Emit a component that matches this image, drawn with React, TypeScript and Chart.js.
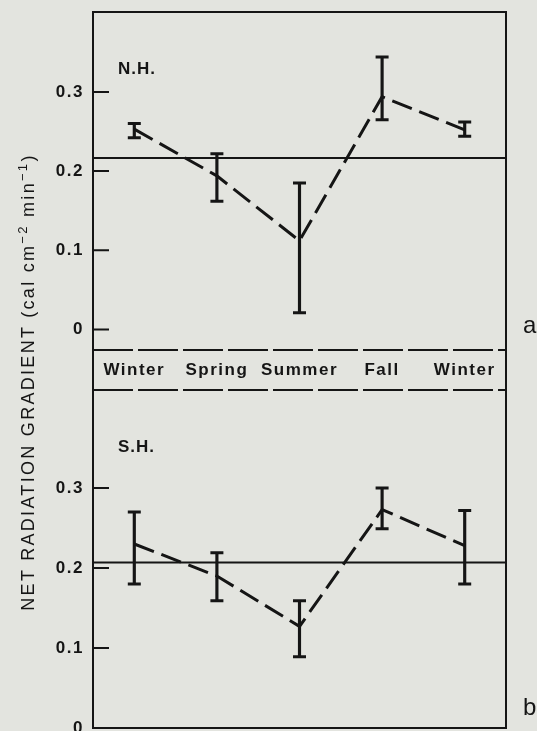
import React, { useEffect, useRef } from "react";
import { Chart, registerables } from "chart.js";

Chart.register(...registerables);

// ---------- data ----------
const seasons = ["Winter", "Spring", "Summer", "Fall", "Winter"];
const yTickValues = [0, 0.1, 0.2, 0.3];

const nhMean = [0.253, 0.194, 0.112, 0.294, 0.252];
const nhLow = [0.242, 0.162, 0.021, 0.265, 0.244];
const nhHigh = [0.26, 0.222, 0.185, 0.344, 0.262];
const nhAnnual = 0.2165;

const shMean = [0.23, 0.19, 0.127, 0.273, 0.228];
const shLow = [0.18, 0.159, 0.089, 0.249, 0.18];
const shHigh = [0.27, 0.219, 0.159, 0.3, 0.272];
const shAnnual = 0.207;

// ---------- style ----------
const INK = "#151515";
const BG = "#e3e4df";
const FONT = "'Liberation Sans', Arial, Helvetica, sans-serif";

type PanelOpts = {
  mean: number[];
  low: number[];
  high: number[];
  annual: number;
  yMin: number;
  yMax: number;
  showX: boolean;
  tag: string;
  tagY: number;
  letter: string;
  letterY: number;
  canvasH: number;
  padTop: number;
  padBottom: number;
  xAxisH: number;
  bandH: number;
};

function makePlugin(o: PanelOpts) {
  return {
    id: "panelFrame",
    beforeDraw(chart: any) {
      chart.ctx.letterSpacing = "1.5px";
    },
    afterDraw(chart: any) {
      const { ctx, chartArea: a, scales } = chart;
      const ys = scales.y;
      ctx.save();
      ctx.strokeStyle = INK;
      ctx.fillStyle = INK;
      ctx.lineWidth = 2;
      ctx.setLineDash([]);
      const bottomV = o.showX ? a.bottom + o.bandH + 1 : a.bottom + 1;
      const topV = o.showX ? a.top - 1 : 0;
      // side frame lines
      ctx.beginPath();
      ctx.moveTo(a.left, topV);
      ctx.lineTo(a.left, bottomV);
      ctx.moveTo(a.right, topV);
      ctx.lineTo(a.right, bottomV);
      ctx.stroke();
      if (o.showX) {
        ctx.beginPath();
        ctx.moveTo(a.left - 1, a.top);
        ctx.lineTo(a.right + 1, a.top);
        ctx.stroke();
        ctx.setLineDash([40, 5]);
        ctx.beginPath();
        ctx.moveTo(a.left, a.bottom);
        ctx.lineTo(a.right, a.bottom);
        ctx.moveTo(a.left, a.bottom + o.bandH);
        ctx.lineTo(a.right, a.bottom + o.bandH);
        ctx.stroke();
        ctx.setLineDash([]);
      } else {
        ctx.beginPath();
        ctx.moveTo(a.left - 1, a.bottom);
        ctx.lineTo(a.right + 1, a.bottom);
        ctx.stroke();
      }
      // inward tick marks
      ctx.beginPath();
      for (const t of ys.ticks) {
        const py = ys.getPixelForValue(t.value);
        ctx.moveTo(a.left, py);
        ctx.lineTo(a.left + 16, py);
      }
      ctx.stroke();
      // annual mean line
      const my = ys.getPixelForValue(o.annual);
      ctx.beginPath();
      ctx.moveTo(a.left, my);
      ctx.lineTo(a.right, my);
      ctx.stroke();
      // labels
      ctx.letterSpacing = "1px";
      ctx.font = `bold 17px ${FONT}`;
      ctx.textAlign = "left";
      ctx.textBaseline = "middle";
      ctx.fillText(o.tag, a.left + 25, o.tagY);
      ctx.letterSpacing = "0px";
      ctx.font = `24px ${FONT}`;
      ctx.textBaseline = "alphabetic";
      ctx.fillText(o.letter, a.right + 17, o.letterY);
      ctx.restore();
    },
  };
}

function makeConfig(o: PanelOpts): any {
  return {
    type: "bar",
    data: {
      labels: seasons,
      datasets: [
        {
          type: "line",
          data: o.mean,
          borderColor: INK,
          borderWidth: 3,
          borderDash: [21, 8],
          pointRadius: 0,
          tension: 0,
          fill: false,
          order: 1,
        },
        {
          type: "bar",
          data: o.low.map((l, i) => [l, o.high[i]]),
          backgroundColor: INK,
          borderWidth: 0,
          barThickness: 2.5,
          order: 2,
        },
        {
          type: "line",
          data: o.low,
          showLine: false,
          pointStyle: "line",
          pointRadius: 6.5,
          pointBorderWidth: 3,
          pointBorderColor: INK,
          order: 3,
        },
        {
          type: "line",
          data: o.high,
          showLine: false,
          pointStyle: "line",
          pointRadius: 6.5,
          pointBorderWidth: 3,
          pointBorderColor: INK,
          order: 4,
        },
      ],
    },
    options: {
      responsive: false,
      animation: false,
      devicePixelRatio: 1,
      events: [],
      layout: {
        autoPadding: false,
        padding: { top: o.padTop, right: 31, bottom: o.padBottom, left: 0 },
      },
      plugins: { legend: { display: false }, tooltip: { enabled: false } },
      scales: {
        x: {
          type: "category",
          offset: true,
          display: o.showX,
          grid: { display: false, drawTicks: false },
          border: { display: false },
          ticks: {
            color: INK,
            font: { family: FONT, size: 17, weight: "bold" },
            padding: 10,
            maxRotation: 0,
            autoSkip: false,
          },
          afterFit: (s: any) => {
            s.height = o.xAxisH;
            s.paddingLeft = 0;
            s.paddingRight = 0;
          },
        },
        y: {
          type: "linear",
          min: o.yMin,
          max: o.yMax,
          grid: { display: false, drawTicks: false },
          border: { display: false },
          afterBuildTicks: (s: any) => {
            s.ticks = yTickValues.map((v) => ({ value: v }));
          },
          ticks: {
            color: INK,
            font: { family: FONT, size: 17, weight: "bold" },
            padding: 9,
            callback: (v: any) => (v === 0 ? "0" : Number(v).toFixed(1)),
          },
          afterFit: (s: any) => {
            s.width = 93;
            s.paddingTop = 0;
            s.paddingBottom = 0;
          },
        },
      },
    },
    plugins: [makePlugin(o)],
  };
}

const topOpts: PanelOpts = {
  mean: nhMean,
  low: nhLow,
  high: nhHigh,
  annual: nhAnnual,
  yMin: -0.026,
  yMax: 0.401,
  showX: true,
  tag: "N.H.",
  tagY: 69,
  letter: "a",
  letterY: 333,
  canvasH: 393,
  padTop: 12,
  padBottom: 0,
  xAxisH: 43,
  bandH: 40,
};

const bottomOpts: PanelOpts = {
  mean: shMean,
  low: shLow,
  high: shHigh,
  annual: shAnnual,
  yMin: 0,
  yMax: 0.4225,
  showX: false,
  tag: "S.H.",
  tagY: 57,
  letter: "b",
  letterY: 325,
  canvasH: 341,
  padTop: 0,
  padBottom: 3,
  xAxisH: 0,
  bandH: 0,
};

function Panel({ o, top }: { o: PanelOpts; top: number }) {
  const ref = useRef<HTMLCanvasElement | null>(null);
  useEffect(() => {
    if (!ref.current) return;
    const chart = new Chart(ref.current, makeConfig(o));
    return () => chart.destroy();
  }, [o]);
  return (
    <canvas
      ref={ref}
      width={537}
      height={o.canvasH}
      style={{ position: "absolute", left: 0, top, width: 537, height: o.canvasH, display: "block" }}
    />
  );
}

export default function App() {
  return (
    <div
      style={{
        position: "absolute",
        left: 0,
        top: 0,
        width: 537,
        height: 731,
        background: BG,
        overflow: "hidden",
      }}
    >
      <Panel o={topOpts} top={0} />
      <Panel o={bottomOpts} top={390} />
      <div
        style={{
          position: "absolute",
          left: 28 - 250,
          top: 382 - 12,
          width: 500,
          height: 24,
          lineHeight: "24px",
          textAlign: "center",
          transform: "rotate(-90deg)",
          fontFamily: FONT,
          fontSize: 18,
          letterSpacing: "2.3px",
          color: INK,
          whiteSpace: "nowrap",
        }}
      >
        NET RADIATION GRADIENT (cal cm
        <sup style={{ fontSize: 13, lineHeight: 0, verticalAlign: "7px" }}>−2</sup> min
        <sup style={{ fontSize: 13, lineHeight: 0, verticalAlign: "7px" }}>−1</sup>)
      </div>
    </div>
  );
}
